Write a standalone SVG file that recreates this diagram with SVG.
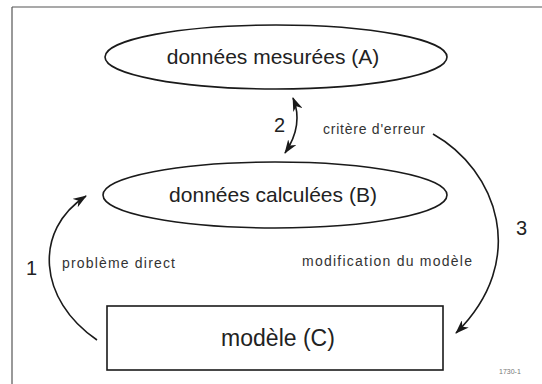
<svg xmlns="http://www.w3.org/2000/svg" width="542" height="384" viewBox="0 0 542 384">
<style>
.frame{stroke:#555;stroke-width:1.2;fill:none}
.shape{fill:#fff;stroke:#1a1a1a;stroke-width:1.6}
.big{font-family:"Liberation Sans",Arial,sans-serif;font-size:21px;fill:#222;text-anchor:middle}
.num{font-family:"Liberation Sans",Arial,sans-serif;font-size:20px;fill:#222}
.lbl{font-family:"Liberation Sans",Arial,sans-serif;font-size:14px;fill:#333}
.conn{fill:none;stroke:#1a1a1a;stroke-width:1.6}
.tiny{font-family:"Liberation Sans",Arial,sans-serif;font-size:7px;fill:#777}
</style>
<defs>
<marker id="ah" markerUnits="userSpaceOnUse" markerWidth="14" markerHeight="10" refX="13" refY="5" orient="auto-start-reverse" viewBox="0 0 14 10">
<path d="M0,0 L14,5 L0,10 L4,5 z" fill="#1a1a1a"/>
</marker>
</defs>
<rect width="542" height="384" fill="#fff"/>
<g id="frame">
<line class="frame" x1="12" y1="7" x2="542" y2="7"/>
<line class="frame" x1="12" y1="7" x2="12" y2="384"/>
</g>
<g id="nodeA">
<ellipse class="shape" cx="276" cy="57" rx="171" ry="32"/>
<text class="big" x="273" y="64">données mesurées (A)</text>
</g>
<g id="nodeB">
<ellipse class="shape" cx="275" cy="195" rx="172" ry="33"/>
<text class="big" x="273" y="202">données calculées (B)</text>
</g>
<g id="nodeC">
<rect class="shape" x="107" y="306" width="336" height="64"/>
<text class="big" x="278" y="346" style="font-size:23px">modèle (C)</text>
</g>
<g id="connectors">
<path class="conn" d="M285,153 Q304,125 293,98" marker-start="url(#ah)" marker-end="url(#ah)"/>
<path class="conn" d="M97,340 C38,300 33,230 86,196" marker-end="url(#ah)"/>
<path class="conn" d="M433,134 C497,170 530,260 456,333" marker-end="url(#ah)"/>
<text class="num" x="274" y="132">2</text>
<text class="num" x="26" y="275">1</text>
<text class="num" x="516" y="235">3</text>
<text class="lbl" x="323" y="134" textLength="102" lengthAdjust="spacing">critère d'erreur</text>
<text class="lbl" x="62" y="268" textLength="113" lengthAdjust="spacing">problème direct</text>
<text class="lbl" x="302" y="266" textLength="170" lengthAdjust="spacing">modification du modèle</text>
</g>
<text class="tiny" x="499" y="374">1730-1</text>
</svg>
